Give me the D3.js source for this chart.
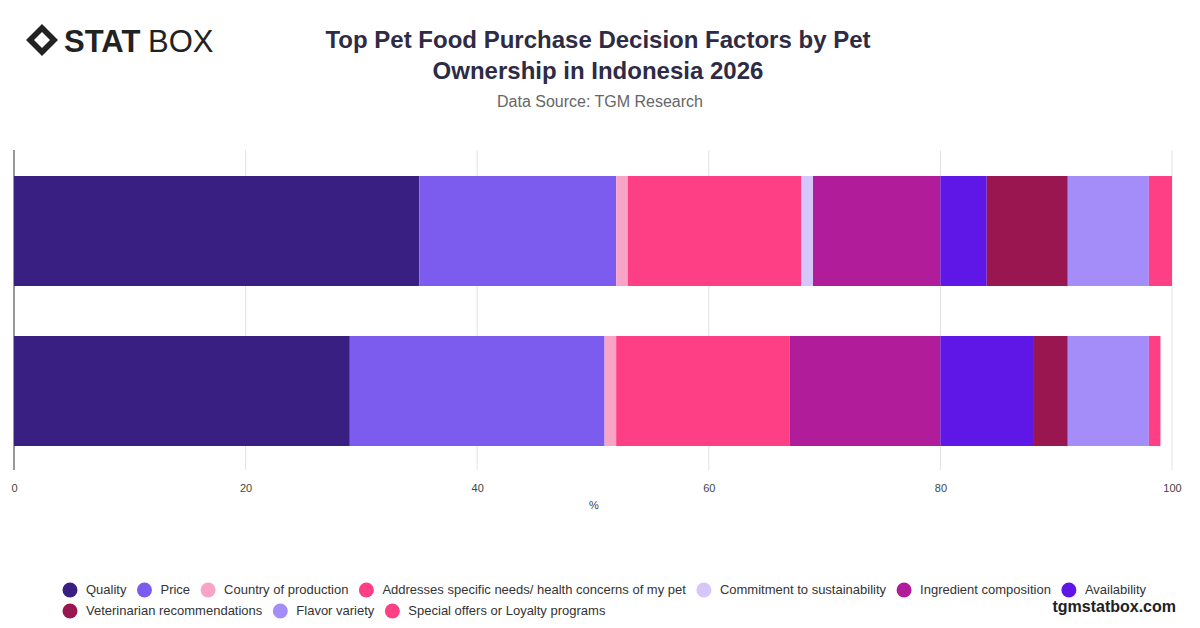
<!DOCTYPE html>
<html><head><meta charset="utf-8">
<script src="https://cdn.jsdelivr.net/npm/d3@7"></script>
<style>body{margin:0;background:#fff;font-family:"Helvetica Neue",Arial,"Liberation Sans",sans-serif}</style>
</head><body><svg id="c" width="1200" height="628"></svg>
<script>
const categories = ["Dog owners", "Cat owners"];
const factors = ["Quality","Price","Country of production","Addresses specific needs/ health concerns of my pet","Commitment to sustainability","Ingredient composition","Availability","Veterinarian recommendations","Flavor variety","Special offers or Loyalty programs"];
const colors = ["#391f82","#7c5cee","#f9a3c6","#ff3f85","#d5c6fb","#b11c9b","#5e17e7","#9a1650","#a48df8","#ff3f85"];
const values = [
  [35,17,1,15,1,11,4,7,7,2],
  [29,22,1,15,0,13,8,3,7,1]
];
const xTicks = [0,20,40,60,80,100];

const svg = d3.select("#c");
const m = {l:14, r:28, t:150, b:470};
const x = d3.scaleLinear().domain([0,100]).range([m.l, 1172]);
const y = d3.scaleBand().domain(categories).range([150, 472]).paddingInner(0.3125).paddingOuter(0.1625);

// grid
svg.append("g").selectAll("line").data(xTicks.slice(1)).join("line")
  .attr("x1",d=>x(d)).attr("x2",d=>x(d)).attr("y1",m.t).attr("y2",m.b)
  .attr("stroke","#e2e2e2");
svg.append("line").attr("x1",x(0)).attr("x2",x(0)).attr("y1",m.t).attr("y2",m.b).attr("stroke","#333");

values.forEach((row,i)=>{
  let acc=0;
  row.forEach((v,j)=>{
    svg.append("rect").attr("x",x(acc)).attr("width",x(acc+v)-x(acc))
      .attr("y",y(categories[i])).attr("height",y.bandwidth()).attr("fill",colors[j]);
    acc+=v;
  });
});

const ax = svg.append("g").attr("transform",`translate(0,${m.b})`)
  .call(d3.axisBottom(x).tickValues(xTicks).tickSize(0).tickPadding(14));
ax.select(".domain").remove();
ax.selectAll("text").attr("font-size",11).attr("fill","#444");
svg.append("text").attr("x",594).attr("y",509).attr("text-anchor","middle").attr("font-size",11).attr("fill","#444").text("%");

// title
svg.append("text").attr("x",598).attr("y",48).attr("text-anchor","middle").attr("font-size",24).attr("font-weight",700).attr("fill","#2d2b45").text("Top Pet Food Purchase Decision Factors by Pet");
svg.append("text").attr("x",598).attr("y",79).attr("text-anchor","middle").attr("font-size",24).attr("font-weight",700).attr("fill","#2d2b45").text("Ownership in Indonesia 2026");
svg.append("text").attr("x",600).attr("y",107).attr("text-anchor","middle").attr("font-size",16).attr("fill","#666").text("Data Source: TGM Research");

// logo
const lg = svg.append("g").attr("transform","translate(26,24)");
lg.append("path").attr("d","M16,0 L32,16 L16,32 L0,16 Z M16,8 L24,16 L16,24 L8,16 Z").attr("fill","#222").attr("fill-rule","evenodd");
lg.append("text").attr("x",38).attr("y",28).attr("font-size",31).attr("font-weight",900).attr("fill","#222").text("STAT");
lg.append("text").attr("x",122).attr("y",28).attr("font-size",31).attr("fill","#222").text("BOX");

// legend
const rows = [[0,1,2,3,4,5,6],[7,8,9]];
const rowY = [594,615];
rows.forEach((r,ri)=>{
  let cx = 62;
  r.forEach(j=>{
    svg.append("circle").attr("cx",cx+8).attr("cy",rowY[ri]-4).attr("r",7.5).attr("fill",colors[j]);
    const t = svg.append("text").attr("x",cx+24).attr("y",rowY[ri]).attr("font-size",13).attr("fill","#333").text(factors[j]);
    cx += 24 + t.node().getComputedTextLength() + 10;
  });
});
svg.append("text").attr("x",1176).attr("y",612).attr("text-anchor","end").attr("font-size",16).attr("font-weight",700).attr("fill","#222").text("tgmstatbox.com");
</script></body></html>
